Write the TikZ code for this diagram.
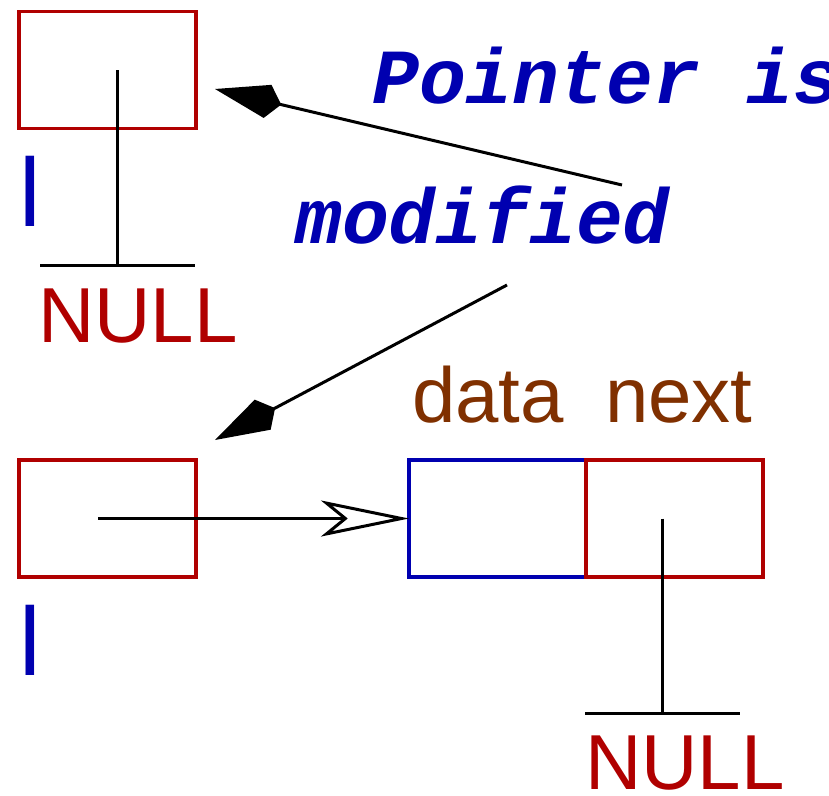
\documentclass[tikz,border=0pt]{standalone}
\usepackage{fontspec}
\setmainfont{Liberation Sans}
\newfontfamily\codefont{Liberation Mono}
\usetikzlibrary{positioning,arrows.meta}

\definecolor{ptrred}{HTML}{B00000}
\definecolor{ptrblue}{HTML}{0000B0}
\definecolor{fieldbrown}{HTML}{803000}

\tikzset{
	cellbox/.style={draw=ptrred,line width=3.5pt,minimum width=177pt,minimum height=117pt,outer sep=0pt,inner sep=0pt},
	datacell/.style={cellbox,draw=ptrblue},
	sanstext/.style={font=\fontsize{78}{80}\selectfont,inner sep=0pt,anchor=base west},
	varname/.style={font=\fontsize{97}{100}\selectfont,text=ptrblue,inner sep=0pt,anchor=base west},
	codetext/.style={font=\codefont\bfseries\itshape\fontsize{78}{80}\selectfont,text=ptrblue,inner sep=0pt,anchor=base west},
	wire/.style={black,line width=3pt},
	kitetip/.style={wire,-{Kite[length=68pt,width=34pt,inset=14pt]}},
	opentip/.style={wire,-{Stealth[open,length=88pt,width=36pt,inset=22pt]}}
}

\begin{document}
\begin{tikzpicture}[x=1pt,y=-1pt]
	\clip (0,0) rectangle (829,795);

	% old list: l points to NULL
	\node [cellbox] at (107.5,70) (ptr_old) {};
	\coordinate (ptr_old_in) at (117,70);
	\coordinate (gnd_old) at (117,265);
	\coordinate (gnd_old_w) at (40,265);
	\coordinate (gnd_old_e) at (195,265);
	\draw[wire] (ptr_old_in) -- (gnd_old);
	\draw[wire] (gnd_old_w) -- (gnd_old_e);
	\node [varname] at (19.5,226) (l_old) {l};
	\node [sanstext,text=ptrred] at (38,342) (null_old) {NULL};

	% new list: l points to the new node
	\node [cellbox] at (107.5,518.5) (ptr_new) {};
	\coordinate (ptr_new_in) at (98,518.5);
	\node [varname] at (19.5,675) (l_new) {l};
	\node [datacell,right=213pt of ptr_new] (data) {};
	\node [cellbox,right=0pt of data] (next) {};
	\node [sanstext,text=fieldbrown] at (412,422) (data_lbl) {data};
	\node [sanstext,text=fieldbrown] at (605,422) (next_lbl) {next};
	\coordinate (next_in) at (662,518.5);
	\coordinate (gnd_new) at (662,713);
	\coordinate (gnd_new_w) at (585,713);
	\coordinate (gnd_new_e) at (740,713);
	\draw[wire] (next_in) -- (gnd_new);
	\draw[wire] (gnd_new_w) -- (gnd_new_e);
	\node [sanstext,text=ptrred] at (585,789) (null_new) {NULL};
	\draw[opentip] (ptr_new_in) -- (data.west);

	% comment
	\node [codetext] at (372,103) (note_top) {Pointer is};
	\node [codetext] at (295,243) (note_mod) {modified};
	\coordinate (note_a) at (622,185);
	\coordinate (note_b) at (507,285);
	\coordinate (tip_old) at (215,89);
	\coordinate (tip_new) at (215,440);
	\draw[kitetip] (note_a) -- (tip_old);
	\draw[kitetip] (note_b) -- (tip_new);
\end{tikzpicture}
\end{document}
